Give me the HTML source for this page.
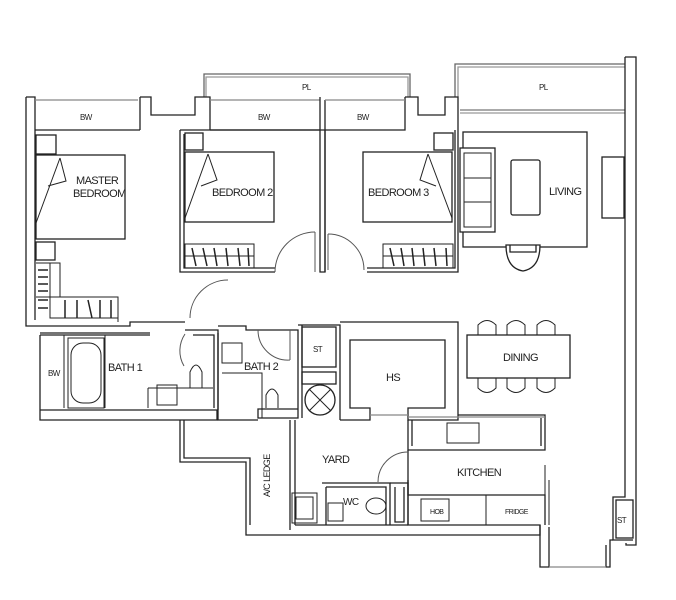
<!DOCTYPE html>
<html><head><meta charset="utf-8"><style>
html,body{margin:0;padding:0;background:#fff;}
svg{display:block}
text{font-family:"Liberation Sans Narrow","Liberation Sans",sans-serif;fill:#222;letter-spacing:-0.6px;}
</style></head><body>
<svg width="676" height="600" viewBox="0 0 676 600" xmlns="http://www.w3.org/2000/svg">
<g fill="none" stroke="#222" stroke-width="1.3">
<path d="M204,97 V74 H410 V97" stroke="#666"/>
<path d="M206,97 V77 H408 V97" stroke="#999"/>
<path d="M455,97 V64 H625" stroke="#666"/>
<path d="M458,97 V67 H625" stroke="#999"/>
<line x1="460" y1="110" x2="625" y2="110" stroke="#777"/>
<line x1="460" y1="113" x2="625" y2="113" stroke="#999"/>
<path d="M625,57 H636 V545 H626 V543"/>
<path d="M625,57 V497 H613 V540 H633"/>
<rect x="616" y="500" width="17" height="38"/>
<path d="M613,540 H610 V567 H606 V545"/>
<path d="M540,525 V567 H549 V527"/>
<line x1="549" y1="567" x2="606" y2="567" stroke="#888"/>
<path d="M26,97 H35 V320"/>
<path d="M26,97 V326 H130 V322 H185"/>
<line x1="35" y1="100" x2="138" y2="100" stroke="#888"/>
<line x1="35" y1="130" x2="140" y2="130"/>
<path d="M140,97 V130 M140,97 H151 V115 H195 V97 H210 V130"/>
<line x1="210" y1="100" x2="320" y2="100" stroke="#888"/>
<path d="M180,130 H320 M180,130 V272 H275 M184,134 V268 H275"/>
<path d="M320,97 V272 H325 V100 M405,97 V130 H320 M405,97 H418 V115 H445 V97 H458 V272 H367"/>
<path d="M325,130 V272 M455,130 V268 H367"/>
<line x1="325" y1="100" x2="405" y2="100" stroke="#888"/>
<line x1="210" y1="130" x2="320" y2="130"/>
<path d="M275,272 A40,40 0 0 1 315,232" stroke="#555" stroke-width="1"/>
<line x1="315" y1="232" x2="315" y2="272" stroke="#555" stroke-width="1"/>
<path d="M364,270 A36,36 0 0 0 328,234" stroke="#555" stroke-width="1"/>
<line x1="328" y1="234" x2="328" y2="270" stroke="#555" stroke-width="1"/>
<path d="M190,318 A38,38 0 0 1 228,280" stroke="#555" stroke-width="1"/>
<rect x="36" y="155" width="89" height="84"/>
<path d="M60,158 L36,223 M60,158 L66,181 L48,186" stroke-width="1"/>
<rect x="36" y="135" width="20" height="19"/>
<rect x="36" y="242" width="19" height="18"/>
<rect x="185" y="152" width="89" height="70"/>
<path d="M208,154 L185,218 M208,154 L217,180 L201,186" stroke-width="1"/>
<rect x="185" y="133" width="18" height="17"/>
<rect x="363" y="152" width="89" height="70"/>
<path d="M428,154 L452,218 M428,154 L420,180 L436,186" stroke-width="1"/>
<rect x="434" y="133" width="19" height="17"/>
<rect x="185" y="244" width="69" height="24" stroke-width="1"/>
<line x1="185" y1="256" x2="254" y2="256" stroke-width="1"/>
<rect x="383" y="244" width="70" height="24" stroke-width="1"/>
<line x1="383" y1="256" x2="453" y2="256" stroke-width="1"/>
<path d="M36,263 H60 V297 H118 V322 M36,297 H60 M50,263 V318 H118" stroke-width="1"/>
<g stroke-width="1.5">
<path d="M192,248 L196,266 M203,248 L207,266 M214,248 L217,266 M226,248 L228,266 M238,248 L240,266 M248,248 L249,266"/>
<path d="M390,248 L394,266 M401,248 L404,266 M412,248 L414,266 M423,248 L425,266 M434,248 L436,266 M446,248 L447,266"/>
<path d="M65,300 V318 M77,300 V318 M88,300 L92,318 M100,300 V318 M111,300 V318"/>
<path d="M38,270 H48 M38,277 H48 M38,284 H48 M38,291 H48 M38,300 H48 M38,308 H48"/>
</g>
<rect x="463" y="132" width="124" height="115"/>
<rect x="460" y="148" width="35" height="84" fill="#fff"/>
<path d="M464,153 H491 V227 H464 Z M464,178 H491 M464,202 H491" stroke-width="1"/>
<rect x="511" y="160" width="29" height="55" rx="2"/>
<rect x="602" y="157" width="22" height="61"/>
<path d="M506,245 Q506,268 523,271 Q540,268 540,245 Z M510,245 V252 H536 V245" fill="#fff"/>
<!-- bath 1 -->
<path d="M40,333 H150 M185,330 H218 V410"/>
<path d="M40,335 H150 M193,335 H214 V408"/>
<path d="M40,335 V420 H217 V410 H40"/>
<line x1="64" y1="335" x2="64" y2="408" stroke-width="1"/>
<rect x="68" y="338" width="36" height="70" stroke-width="1"/>
<rect x="71" y="343" width="30" height="60" rx="12" stroke-width="1"/>
<line x1="105" y1="335" x2="105" y2="408" stroke-width="1"/>
<path d="M148,388 H213 M148,388 V408" stroke-width="1"/>
<rect x="157" y="385" width="20" height="20" stroke-width="1"/>
<path d="M190,388 V372 Q196,358 202,372 V388" stroke-width="1"/>
<path d="M185,334 A30,30 0 0 0 184,366" stroke="#555" stroke-width="1"/>
<!-- bath 2 -->
<path d="M218,326 H246 V330 H298 V418 H258 V409 H298 M218,333 V420 H258" />
<rect x="222" y="343" width="20" height="20" stroke-width="1"/>
<path d="M222,373 H262 V418" stroke-width="1"/>
<path d="M266,408 V395 Q272,383 278,395 V408" stroke-width="1"/>
<path d="M258,330 A30,30 0 0 0 290,360 M290,330 V360" stroke="#555" stroke-width="1"/>
<path d="M298,325 H340 V420 M302,325 V418"/>
<rect x="302" y="327" width="34" height="40"/>
<rect x="302" y="372" width="34" height="12"/>
<circle cx="320" cy="400" r="15"/>
<path d="M309,389 L331,411 M331,389 L309,411" stroke-width="1"/>
<path d="M340,322 H458 V420 H408 V408 H445 V340 H350 V408 H370 V420 H340"/>
<line x1="370" y1="415" x2="408" y2="415" stroke="#888"/>
<rect x="467" y="335" width="103" height="43"/>
<g stroke-width="1">
<path d="M478,335 V325 Q487,316 496,325 V335 M507,335 V325 Q516,316 525,325 V335 M537,335 V325 Q546,316 555,325 V335"/>
<path d="M478,378 V388 Q487,397 496,388 V378 M507,378 V388 Q516,397 525,388 V378 M537,378 V388 Q546,397 555,388 V378"/>
</g>
<path d="M408,420 V450 H545 V415 H458 M412,420 V446 M541,418 V446"/>
<path d="M408,417 H545" stroke="#888"/>
<rect x="447" y="423" width="32" height="20" stroke-width="1"/>
<path d="M408,450 V495 H545 V525"/>
<line x1="486" y1="495" x2="486" y2="525" stroke-width="1"/>
<rect x="421" y="499" width="28" height="22" stroke-width="1"/>
<path d="M545,465 V525 M549,480 V525" stroke-width="1"/>
<path d="M378,482 A30,30 0 0 1 408,452" stroke="#555" stroke-width="1"/>
<path d="M180,420 V462 H246 V535 H540 V525 H408 V480"/>
<path d="M184,420 V458 H250 V525"/>
<path d="M290,420 V530 M295,420 V525 M295,525 H408"/>
<rect x="292" y="493" width="25" height="30" stroke-width="1"/>
<rect x="296" y="497" width="17" height="22" stroke-width="1"/>
<path d="M322,483 H390 V525 M326,487 V525 M326,487 H386 V525"/>
<path d="M390,483 H408 V525 M395,487 V522 H404 V487"/>
<ellipse cx="376" cy="506" rx="10" ry="8" stroke-width="1"/>
<rect x="328" y="503" width="15" height="18" stroke-width="1"/>
</g>
<g font-size="11">
<text x="76" y="184">MASTER</text>
<text x="73" y="197">BEDROOM</text>
<text x="212" y="196">BEDROOM 2</text>
<text x="368" y="196">BEDROOM 3</text>
<text x="549" y="195">LIVING</text>
<text x="503" y="361">DINING</text>
<text x="108" y="371">BATH 1</text>
<text x="244" y="370">BATH 2</text>
<text x="386" y="381">HS</text>
<text x="322" y="463">YARD</text>
<text x="457" y="476">KITCHEN</text>
</g>
<g font-size="8">
<text x="80" y="120">BW</text>
<text x="258" y="120">BW</text>
<text x="357" y="120">BW</text>
<text x="302" y="90">PL</text>
<text x="539" y="90">PL</text>
<text x="48" y="376">BW</text>
<text x="313" y="352">ST</text>
<text x="617" y="523">ST</text>
<text x="343" y="505" font-size="10">WC</text>
<text x="430" y="514" font-size="7">HOB</text>
<text x="505" y="514" font-size="7">FRIDGE</text>
<text transform="translate(270,497) rotate(-90)" font-size="9">A/C LEDGE</text>
</g>
</svg>
</body></html>
